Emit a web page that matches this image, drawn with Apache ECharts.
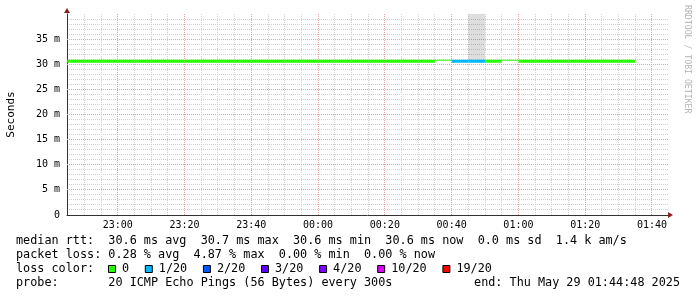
<!DOCTYPE html>
<html>
<head>
<meta charset="utf-8">
<script src="https://cdn.jsdelivr.net/npm/echarts@6/dist/echarts.min.js"></script>
<style>html,body{margin:0;padding:0;background:#fff}#c{width:697px;height:297px}</style>
</head>
<body>
<div id="c"></div>
<script>
// ---- data ----
const graphStart = '22:44:48';
const graphEnd = '01:44:48';
const majorTicks = ['23:00','23:20','23:40','00:00','00:20','00:40','01:00','01:20','01:40'];
const minorTicks = ['22:45','22:50','22:55','23:05','23:10','23:15','23:25','23:30','23:35','23:45','23:50','23:55',
  '00:05','00:10','00:15','00:25','00:30','00:35','00:45','00:50','00:55',
  '01:05','01:10','01:15','01:25','01:30','01:35'];
const slotStart = ['22:40','22:45','22:50','22:55','23:00','23:05','23:10','23:15','23:20','23:25','23:30','23:35','23:40','23:45','23:50','23:55',
  '00:00','00:05','00:10','00:15','00:20','00:25','00:30','00:35','00:40','00:45','00:50','00:55',
  '01:00','01:05','01:10','01:15','01:20','01:25','01:30'];
const medianMs = [30.6,30.6,30.6,30.6,30.6,30.6,30.6,30.6,30.6,30.6,30.6,30.6,30.6,30.6,30.6,30.6,
  30.6,30.6,30.6,30.6,30.6,30.6,30.6,30.7,30.6,30.6,30.6,30.7,
  30.6,30.6,30.6,30.6,30.6,30.6,30.6];
const lossCount = [0,0,0,0,0,0,0,0,0,0,0,0,0,0,0,0,
  0,0,0,0,0,0,0,0,1,1,0,0,
  0,0,0,0,0,0,0];
const partialSlot = [0,0,0,0,0,0,0,0,0,0,0,0,0,0,0,0,
  0,0,0,0,0,0,0,1,0,0,0,1,
  0,0,0,0,0,0,0];
const smokeHigh = [null,null,null,null,null,null,null,null,null,null,null,null,null,null,null,null,
  null,null,null,null,null,null,null,null,null,45,null,null,
  null,null,null,null,null,null,null];
const yTicks = [5,10,15,20,25,30,35];
const yMinorTicks = [1,2,3,4,6,7,8,9,11,12,13,14,16,17,18,19,21,22,23,24,26,27,28,29,31,32,33,34,36,37,38,39];
const lossLabels = ['0','1/20','2/20','3/20','4/20','10/20','19/20'];
const lossThresholds = [0,1,2,3,4,10,19];
const lossColors = ['#26ff00','#00b8ff','#0059ff','#5e00ff','#7e00ff','#dd00ff','#ff0000'];
const legendLines = [
  'median rtt:  30.6 ms avg  30.7 ms max  30.6 ms min  30.6 ms now  0.0 ms sd  1.4 k am/s',
  'packet loss: 0.28 % avg  4.87 % max  0.00 % min  0.00 % now',
  'loss color:',
  'probe:       20 ICMP Echo Pings (56 Bytes) every 300s'
];
const endText = 'end: Thu May 29 01:44:48 2025';
const yTitle = 'Seconds';
const watermark = 'RRDTOOL / TOBI OETIKER';

// ---- helpers ----
function toSec(hm) {
  const p = hm.split(':').map(Number);
  let s = p[0]*3600 + p[1]*60 + (p[2]||0);
  if (p[0] < 12) s += 86400;
  return s;
}
function fmt(sec) {
  sec = sec % 86400;
  const h = Math.floor(sec/3600), m = Math.round((sec%3600)/60);
  return String(h).padStart(2,'0') + ':' + String(m).padStart(2,'0');
}
function lossColor(n) {
  let c = lossColors[0];
  for (let i = 0; i < lossThresholds.length; i++) if (n >= lossThresholds[i]) c = lossColors[i];
  return c;
}
const X0 = toSec(graphStart), X1 = toSec(graphEnd);
const SW = 0.3;

const bandData = slotStart.map((t, i) => {
  const s = toSec(t), e = s + 300;
  const lo = partialSlot[i] ? medianMs[i] : medianMs[i] - SW;
  const hi = partialSlot[i] ? medianMs[i] + 0.2 : medianMs[i] + SW;
  return [s, e, lo, hi, lossCount[i]];
});
const smokeData = [];
slotStart.forEach((t, i) => {
  if (smokeHigh[i] != null) { const s = toSec(t); smokeData.push([s, s + 300, medianMs[i], smokeHigh[i]]); }
});

function rectItem(params, api, fill) {
  const p1 = api.coord([api.value(0), api.value(3)]);
  const p2 = api.coord([api.value(1), api.value(2)]);
  const cs = params.coordSys;
  const shape = echarts.graphic.clipRectByRect(
    {x: p1[0], y: p1[1], width: p2[0]-p1[0], height: p2[1]-p1[1]},
    {x: cs.x, y: cs.y, width: cs.width, height: cs.height});
  return shape && {type: 'rect', shape: shape, style: {fill: fill}};
}
function gridSeries(values, vertical, color, z) {
  return {type:'custom', xAxisIndex:0, yAxisIndex:1, z: z, silent: true,
    data: values.map(v => [v]),
    renderItem: (params, api) => {
      const cs = params.coordSys;
      if (vertical) {
        const x = Math.floor(api.coord([api.value(0), 0])[0]) + 0.5;
        return {type:'line', shape:{x1:x, y1:cs.y, x2:x, y2:cs.y+cs.height}, style:{stroke:color, lineWidth:1, lineDash:[1,1]}};
      }
      const y = Math.floor(api.coord([X0, api.value(0)])[1]) + 0.5;
      return {type:'line', shape:{x1:cs.x, y1:y, x2:cs.x+cs.width, y2:y}, style:{stroke:color, lineWidth:1, lineDash:[1,1]}};
    }};
}

const MONO = 'DejaVu Sans Mono';
const FS = 11.8, CW = 7.1;
const graphics = [];
const lineY = [241, 255, 269, 283];
legendLines.forEach((l, i) => graphics.push({type:'text', x:16, y:lineY[i], style:{text:l, font: FS+'px "'+MONO+'"', fill:'#000', verticalAlign:'middle', align:'left'}}));
graphics.push({type:'text', x:680, y:lineY[3], style:{text:endText, font: FS+'px "'+MONO+'"', fill:'#000', verticalAlign:'middle', align:'right'}});
let bx = 108;
lossLabels.forEach((lab, i) => {
  graphics.push({type:'rect', shape:{x:bx+0.5, y:265.5, width:7, height:7}, style:{fill:lossColors[i], stroke:'#000', lineWidth:1}});
  graphics.push({type:'text', x:bx+14, y:lineY[2], style:{text:lab, font: FS+'px "'+MONO+'"', fill:'#000', verticalAlign:'middle', align:'left'}});
  bx = bx + 14 + lab.length*CW + 15.7;
});
graphics.push({type:'text', x:687, y:5, rotation:-Math.PI/2, style:{text:watermark, font:'8.2px "'+MONO+'"', fill:'#b4b4b4', verticalAlign:'middle', align:'left'}});
graphics.push({type:'polygon', shape:{points:[[64,13],[70,13],[67,8]]}, style:{fill:'#8f1f1f'}, z:10});
graphics.push({type:'polygon', shape:{points:[[668,212],[668,218],[673,215]]}, style:{fill:'#8f1f1f'}, z:10});

const GREY = '#cfcfcf', RED = '#eba0a0';

const option = {
  animation: false,
  backgroundColor: '#fff',
  grid: {left: 67, right: 29, top: 14, bottom: 82, containLabel: false, outerBoundsMode: 'none'},
  xAxis: [
    {type:'value', min:X0, max:X1, position:'bottom',
     axisLine:{show:true, onZero:false, lineStyle:{color:'#333', width:1}},
     axisTick:{show:false, customValues: majorTicks.map(toSec)},
     axisLabel:{show:true, customValues: majorTicks.map(toSec), formatter: v => fmt(v), fontFamily: MONO, fontSize:10, color:'#000', margin:5},
     splitLine:{show:false}}
  ],
  yAxis: [
    {type:'value', min:0, max:40, show:false, splitLine:{show:false}},
    {type:'value', min:0, max:40, interval:5, position:'left', offset:0,
     axisLine:{show:true, onZero:false, lineStyle:{color:'#333', width:1}},
     axisTick:{show:false},
     axisLabel:{fontFamily: MONO, fontSize:10, color:'#000', margin:7,
       formatter: v => (v === 0 ? '0' : (yTicks.indexOf(v) >= 0 ? v + ' m' : ''))},
     name: yTitle, nameLocation:'middle', nameGap:50, nameRotate:90,
     nameTextStyle:{fontFamily: MONO, fontSize:11, color:'#000'},
     splitLine:{show:false}}
  ],
  series: [
    gridSeries(yMinorTicks, false, GREY, 0),
    gridSeries(minorTicks.map(toSec), true, GREY, 0),
    gridSeries(yTicks, false, RED, 1),
    gridSeries(majorTicks.map(toSec), true, RED, 1),
    {type:'custom', xAxisIndex:0, yAxisIndex:1, data: smokeData, z:2,
     renderItem: (params, api) => rectItem(params, api, 'rgba(0,0,0,0.13)')},
    {type:'custom', xAxisIndex:0, yAxisIndex:1, data: bandData, z:3,
     renderItem: (params, api) => rectItem(params, api, lossColor(api.value(4)))}
  ],
  graphic: graphics
};
const chart = echarts.init(document.getElementById('c'), null, {renderer:'canvas'});
chart.setOption(option);
</script>
</body>
</html>
